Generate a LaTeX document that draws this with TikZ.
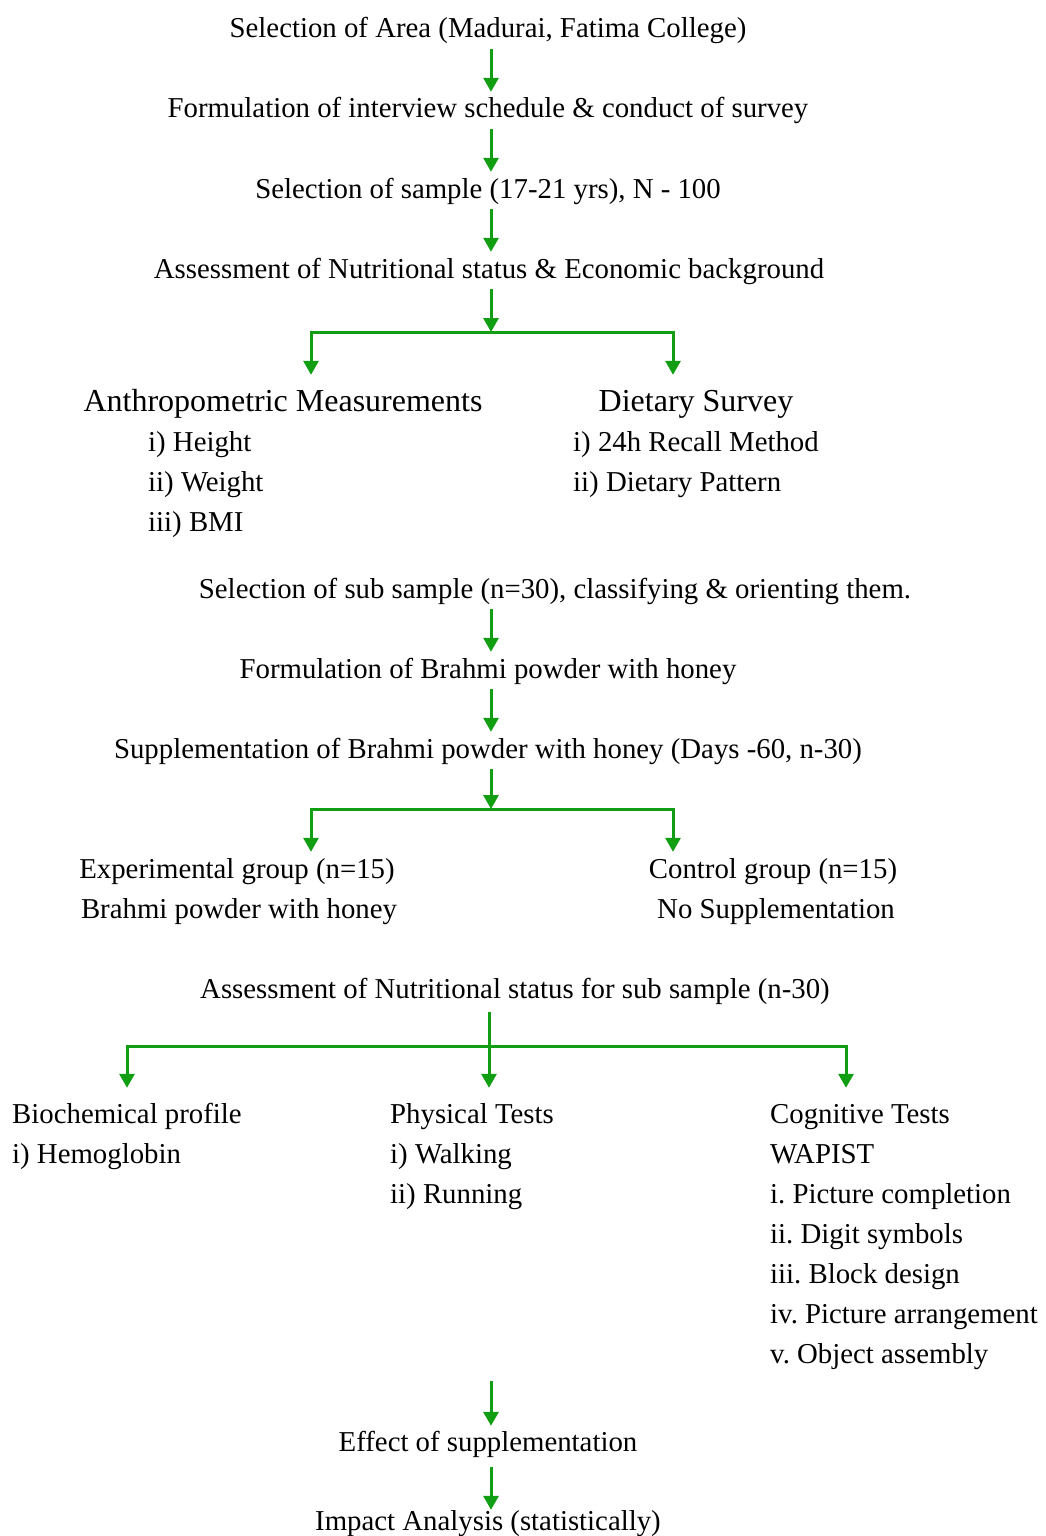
\documentclass[tikz,border=0pt]{standalone}
\usepackage{fontspec}
\setmainfont{Liberation Serif}
\usepackage{tikz}
\usetikzlibrary{positioning,calc,arrows.meta}
\definecolor{flowgreen}{RGB}{18,158,18}
\frenchspacing

\begin{document}
\begin{tikzpicture}[
  x=1pt, y=-1pt,
  step text/.style={inner sep=0pt, text height=20pt, text depth=6pt, anchor=base, font=\fontsize{28.8}{40}\selectfont},
  head text/.style={step text, font=\fontsize{32}{40}\selectfont},
  list text/.style={step text, anchor=base west},
  flow/.style={-{Triangle[width=15pt,length=14pt]}, line width=3pt, draw=flowgreen, shorten <=5pt, shorten >=6pt},
  bar/.style={line width=3pt, draw=flowgreen, line cap=rect}
]
\useasboundingbox (0,0) rectangle (1046,1536);
\coordinate (col) at (491,0);
% main column, first part
\node[step text] (area) at (488,38) {Selection of Area (Madurai, Fatima College)};
\node[step text] (form) at (488,118) {Formulation of interview schedule \& conduct of survey};
\node[step text] (sample) at (488,198) {Selection of sample (17-21 yrs), N - 100};
\node[step text] (nutri) at (489,278) {Assessment of Nutritional status \& Economic background};
\draw[flow] (area.south -| col) -- (form.north -| col);
\draw[flow] (form.south -| col) -- (sample.north -| col);
\draw[flow] (sample.south -| col) -- (nutri.north -| col);
% first split
\coordinate (s1) at (491,332);
\coordinate (s1l) at (311,332);
\coordinate (s1r) at (673,332);
\node[head text] (anth) at (283,411) {Anthropometric Measurements};
\node[head text] (diet) at (696,411) {Dietary Survey};
\foreach \t [count=\i] in {i) Height, ii) Weight, iii) BMI}
  \node[list text] (anth\i) at (148,{451+40*(\i-1)}) {\t};
\foreach \t [count=\i] in {i) 24h Recall Method, ii) Dietary Pattern}
  \node[list text] (diet\i) at (573,{451+40*(\i-1)}) {\t};
\draw[flow, shorten >=0pt] (nutri.south -| col) -- (s1);
\draw[bar] (s1l) -- (s1r);
\draw[flow, shorten <=0pt, shorten >=16pt] (s1l) -- (s1l |- anth.north);
\draw[flow, shorten <=0pt, shorten >=16pt] (s1r) -- (s1r |- diet.north);
% sub sample
\node[step text] (subs) at (555,598) {Selection of sub sample (n=30), classifying \& orienting them.};
\node[step text] (brahmi) at (488,678) {Formulation of Brahmi powder with honey};
\node[step text] (supp) at (488,758) {Supplementation of Brahmi powder with honey (Days -60, n-30)};
\draw[flow] (subs.south -| col) -- (brahmi.north -| col);
\draw[flow] (brahmi.south -| col) -- (supp.north -| col);
% second split
\coordinate (s2) at (491,809);
\coordinate (s2l) at (311,809);
\coordinate (s2r) at (673,809);
\node[step text] (expg) at (237,878) {Experimental group (n=15)};
\node[step text] (expg2) at (239,918) {Brahmi powder with honey};
\node[step text] (ctrl) at (773,878) {Control group (n=15)};
\node[step text] (ctrl2) at (776,918) {No Supplementation};
\draw[flow, shorten >=0pt] (supp.south -| col) -- (s2);
\draw[bar] (s2l) -- (s2r);
\draw[flow, shorten <=0pt, shorten >=6pt] (s2l) -- (s2l |- expg.north);
\draw[flow, shorten <=0pt, shorten >=6pt] (s2r) -- (s2r |- ctrl.north);
% third split
\node[step text] (nutri2) at (515,998) {Assessment of Nutritional status for sub sample (n-30)};
\coordinate (s3) at (489,1046);
\coordinate (s3l) at (127,1046);
\coordinate (s3r) at (846,1046);
\foreach \t [count=\i] in {Biochemical profile, i) Hemoglobin}
  \node[list text] (bio\i) at (12,{1123+40*(\i-1)}) {\t};
\foreach \t [count=\i] in {Physical Tests, i) Walking, ii) Running}
  \node[list text] (phys\i) at (390,{1123+40*(\i-1)}) {\t};
\foreach \t [count=\i] in {Cognitive Tests, WAPIST, i. Picture completion, ii. Digit symbols,
    iii. Block design, iv. Picture arrangement, v. Object assembly}
  \node[list text] (cog\i) at (770,{1123+40*(\i-1)}) {\t};
\draw[bar] (s3l) -- (s3r);
\draw[flow, shorten <=8pt, shorten >=15pt] (nutri2.south -| s3) -- (s3 |- phys1.north);
\draw[flow, shorten <=0pt, shorten >=15pt] (s3l) -- (s3l |- bio1.north);
\draw[flow, shorten <=0pt, shorten >=15pt] (s3r) -- (s3r |- cog1.north);
% end of the chart
\node[step text] (effect) at (488,1451) {Effect of supplementation};
\node[step text] (impact) at (488,1530) {Impact Analysis (statistically)};
\draw[flow, shorten <=12pt, shorten >=5pt] (cog7.south -| col) -- (effect.north -| col);
\draw[flow, shorten <=10pt, shorten >=0pt] (effect.south -| col) -- (impact.north -| col);
\end{tikzpicture}
\end{document}
